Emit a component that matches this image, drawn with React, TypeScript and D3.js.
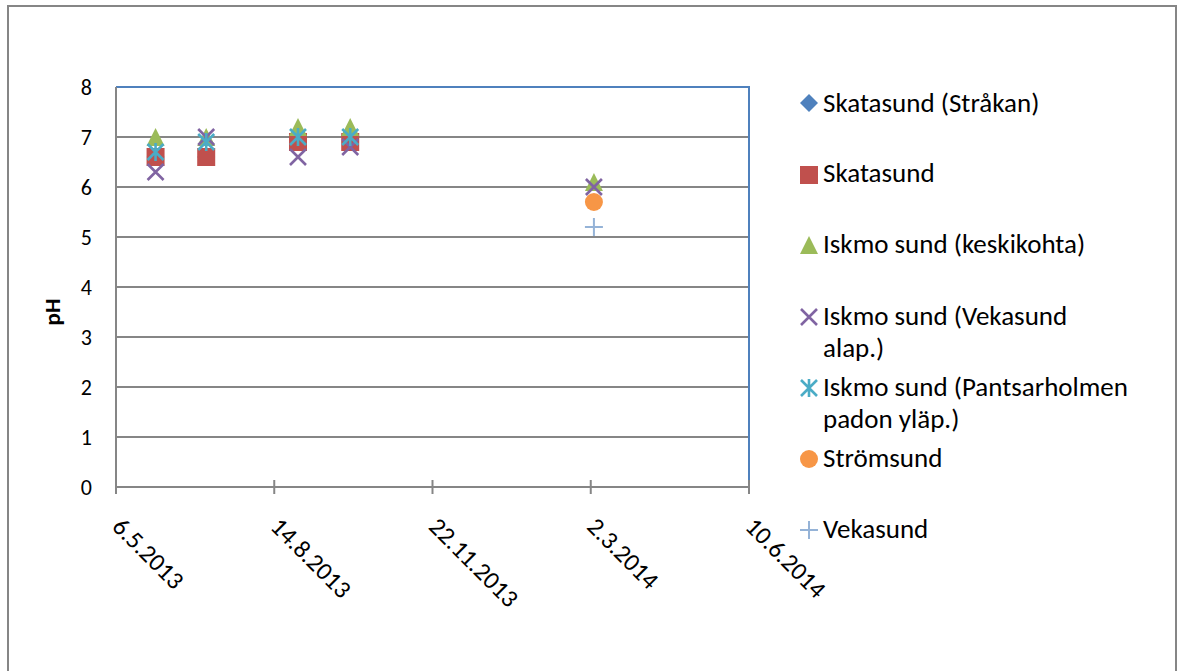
import React from "react";
import * as d3 from "d3";

// Sampling dates (d.m.yyyy) and pH readings per site; null = not sampled
const sampleDates = ["31.5.2013", "2.7.2013", "29.8.2013", "1.10.2013", "4.3.2014"];
const skatasundStrakan = [6.6, 6.6, 6.9, 6.9, null];
const skatasund = [6.6, 6.6, 6.9, 6.9, null];
const iskmoKeskikohta = [7.0, 7.0, 7.2, 7.2, 6.1];
const iskmoVekasundAlap = [6.3, 7.0, 6.6, 6.8, 6.0];
const iskmoPantsarholmen = [6.7, 6.9, 7.0, 7.0, null];
const stromsund = [null, null, null, null, 5.7];
const vekasund = [null, null, null, null, 5.2];

const xTickLabels = ["6.5.2013", "14.8.2013", "22.11.2013", "2.3.2014", "10.6.2014"];
const yTicks = [0, 1, 2, 3, 4, 5, 6, 7, 8];

type Shape = "diamond" | "square" | "triangle" | "x" | "star" | "circle" | "plus";

const seriesList: { name: string[]; values: (number | null)[]; shape: Shape; color: string }[] = [
  { name: ["Skatasund (Stråkan)"], values: skatasundStrakan, shape: "diamond", color: "#4F81BD" },
  { name: ["Skatasund"], values: skatasund, shape: "square", color: "#C0504D" },
  { name: ["Iskmo sund (keskikohta)"], values: iskmoKeskikohta, shape: "triangle", color: "#9BBB59" },
  { name: ["Iskmo sund (Vekasund", "alap.)"], values: iskmoVekasundAlap, shape: "x", color: "#8064A2" },
  { name: ["Iskmo sund (Pantsarholmen", "padon yläp.)"], values: iskmoPantsarholmen, shape: "star", color: "#4BACC6" },
  { name: ["Strömsund"], values: stromsund, shape: "circle", color: "#F79646" },
  { name: ["Vekasund"], values: vekasund, shape: "plus", color: "#95B3D7" },
];

const parse = d3.timeParse("%d.%m.%Y");
const FONT = "Carlito, Calibri, Lato, sans-serif";

function Marker({ shape, color, cx, cy }: { shape: Shape; color: string; cx: number; cy: number }) {
  const r = 9;
  switch (shape) {
    case "diamond":
      return <path d={`M${cx},${cy - r}L${cx + r},${cy}L${cx},${cy + r}L${cx - r},${cy}Z`} fill={color} />;
    case "square":
      return <rect x={cx - r} y={cy - r} width={2 * r} height={2 * r} fill={color} />;
    case "triangle":
      return <path d={`M${cx},${cy - r}L${cx + r},${cy + r}L${cx - r},${cy + r}Z`} fill={color} />;
    case "circle":
      return <circle cx={cx} cy={cy} r={r} fill={color} />;
    case "x": {
      const a = 8;
      return (
        <path d={`M${cx - a},${cy - a}L${cx + a},${cy + a}M${cx - a},${cy + a}L${cx + a},${cy - a}`} stroke={color} strokeWidth={2.6} fill="none" />
      );
    }
    case "star": {
      const a = 8;
      return (
        <path
          d={`M${cx - a},${cy - a}L${cx + a},${cy + a}M${cx - a},${cy + a}L${cx + a},${cy - a}M${cx},${cy - r}L${cx},${cy + r}`}
          stroke={color}
          strokeWidth={2.6}
          fill="none"
        />
      );
    }
    case "plus":
      return (
        <path d={`M${cx - r},${cy}L${cx + r},${cy}M${cx},${cy - r}L${cx},${cy + r}`} stroke={color} strokeWidth={2} fill="none" />
      );
  }
}

export default function App() {
  const W = 1181;
  const H = 671;
  const x = d3
    .scaleTime()
    .domain([parse(xTickLabels[0])!, parse(xTickLabels[xTickLabels.length - 1])!])
    .range([116, 749]);
  const y = d3.scaleLinear().domain([0, 8]).range([487, 87]);
  const dates = sampleDates.map((s) => parse(s)!);
  const gray = "#868686";

  const legendRows = [
    { cy: 103, base: [112] },
    { cy: 175, base: [182] },
    { cy: 245, base: [253] },
    { cy: 317, base: [325, 357] },
    { cy: 388, base: [396, 428] },
    { cy: 459, base: [467] },
    { cy: 530, base: [538] },
  ];

  return (
    <svg width={W} height={H} style={{ position: "absolute", left: 0, top: 0, background: "#fff" }} fontFamily={FONT}>
      {/* chart area frame */}
      <rect x={8} y={6} width={1168} height={720} fill="#fff" stroke={gray} strokeWidth={2} />

      {/* horizontal gridlines */}
      {yTicks
        .filter((t) => t > 0 && t < 8)
        .map((t) => (
          <line key={t} x1={116} x2={749} y1={y(t)} y2={y(t)} stroke={gray} strokeWidth={1.8} />
        ))}

      {/* plot area border (top / right) */}
      <path d={`M116,${y(8)}L${x.range()[1]},${y(8)}L${x.range()[1]},${y(0)}`} fill="none" stroke="#4F81BD" strokeWidth={2} />

      {/* axes */}
      <line x1={116} x2={116} y1={y(8)} y2={y(0)} stroke={gray} strokeWidth={2} />
      <line x1={116} x2={750} y1={y(0)} y2={y(0)} stroke={gray} strokeWidth={2} />
      {xTickLabels.map((s) => {
        const px = x(parse(s)!);
        return <line key={s} x1={px} x2={px} y1={y(0) - 7} y2={y(0) + 7} stroke={gray} strokeWidth={2} />;
      })}

      {/* y tick labels */}
      {yTicks.map((t) => (
        <text key={t} x={92} y={y(t) + 8} textAnchor="end" fontSize={22} fill="#000">
          {t}
        </text>
      ))}

      {/* x tick labels, rotated */}
      {xTickLabels.map((s) => {
        const px = x(parse(s)!);
        return (
          <text key={s} transform={`translate(${px - 5},528) rotate(45)`} fontSize={25} fill="#000">
            {s}
          </text>
        );
      })}

      {/* y axis title */}
      <text transform="translate(60,312) rotate(-90)" textAnchor="middle" fontSize={23} fontWeight="bold" fill="#000">
        pH
      </text>

      {/* data markers */}
      {seriesList.map((se) =>
        se.values.map((v, i) =>
          v == null ? null : <Marker key={se.name[0] + i} shape={se.shape} color={se.color} cx={x(dates[i])} cy={y(v)} />
        )
      )}

      {/* legend */}
      {seriesList.map((se, i) => (
        <g key={se.name[0]}>
          <Marker shape={se.shape} color={se.color} cx={809} cy={legendRows[i].cy} />
          {se.name.map((line, j) => (
            <text key={j} x={823} y={legendRows[i].base[j]} fontSize={27} fill="#000">
              {line}
            </text>
          ))}
        </g>
      ))}
    </svg>
  );
}
